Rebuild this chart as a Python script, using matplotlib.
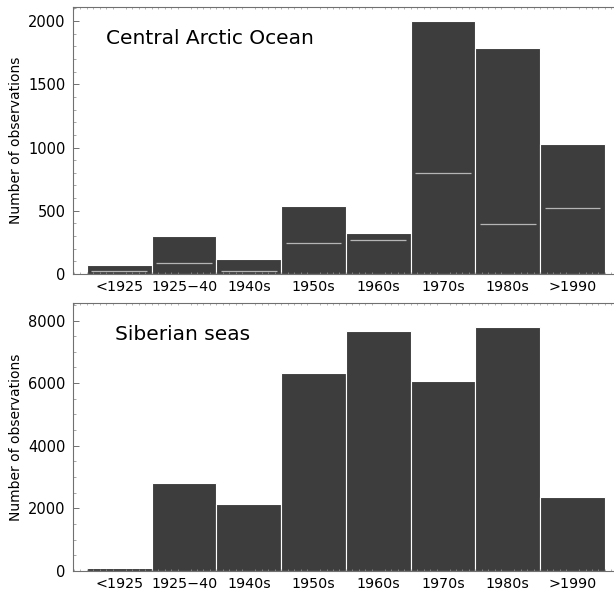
import matplotlib
matplotlib.use("Agg")
import matplotlib.pyplot as plt
from matplotlib.ticker import MultipleLocator
import numpy as np

# Decades / periods
periods = ["<1925", "1925\u221240", "1940s", "1950s", "1960s", "1970s", "1980s", ">1990"]

# Central Arctic Ocean: total observations and the sub-count (white line)
arctic_total = [70, 300, 119, 538, 327, 2000, 1789, 1028]
arctic_sub = [21, 89, 21, 243, 266, 796, 393, 519]

# Siberian seas: total observations
siberian_total = [110, 2800, 2130, 6310, 7650, 6070, 7780, 2360]

bar_color = "#3d3d3d"
spine_color = "#707070"

fig = plt.figure(figsize=(6.14, 5.92), dpi=100)
ax1 = fig.add_axes([0.1184, 0.5372, 0.8816, 0.4510])
ax2 = fig.add_axes([0.1184, 0.0355, 0.8816, 0.4532])

x = np.arange(len(periods))


def style_axis(ax, ymax, major, minor):
    ax.set_xlim(-0.72, 7.64)
    ax.set_ylim(0, ymax)
    ax.set_xticks(x)
    ax.set_xticklabels(periods, fontsize=10.3)
    ax.yaxis.set_major_locator(MultipleLocator(major))
    ax.yaxis.set_minor_locator(MultipleLocator(minor))
    ax.xaxis.set_minor_locator(MultipleLocator(0.1))
    ax.tick_params(axis="x", which="major", length=0, pad=4)
    ax.tick_params(axis="x", which="minor", direction="in", length=1.5,
                   color="#999999", width=0.5, top=True, bottom=True)
    ax.tick_params(axis="y", which="major", direction="in", length=4,
                   color=spine_color, width=0.7, labelsize=10.5, pad=5)
    ax.tick_params(axis="y", which="minor", direction="in", length=2,
                   color="#999999", width=0.6)
    ax.spines["right"].set_visible(False)
    for s in ["left", "top", "bottom"]:
        ax.spines[s].set_color(spine_color)
        ax.spines[s].set_linewidth(0.8)
    ax.set_ylabel("Number of observations", fontsize=10, labelpad=4)


# top panel
ax1.bar(x, arctic_total, width=1.0, color=bar_color, edgecolor="white", linewidth=0.8)
ax1.hlines(arctic_sub, x - 0.43, x + 0.43, color="#b5b5b5", linewidth=0.9)
style_axis(ax1, 2111, 500, 100)
ax1.text(0.0615, 0.881, "Central Arctic Ocean", transform=ax1.transAxes,
         fontsize=14.5, va="center", ha="left")

# bottom panel
ax2.bar(x, siberian_total, width=1.0, color=bar_color, edgecolor="white", linewidth=0.8)
style_axis(ax2, 8570, 2000, 500)
ax2.text(0.078, 0.883, "Siberian seas", transform=ax2.transAxes,
         fontsize=14.5, va="center", ha="left")

fig.savefig("out.png", dpi=100)
